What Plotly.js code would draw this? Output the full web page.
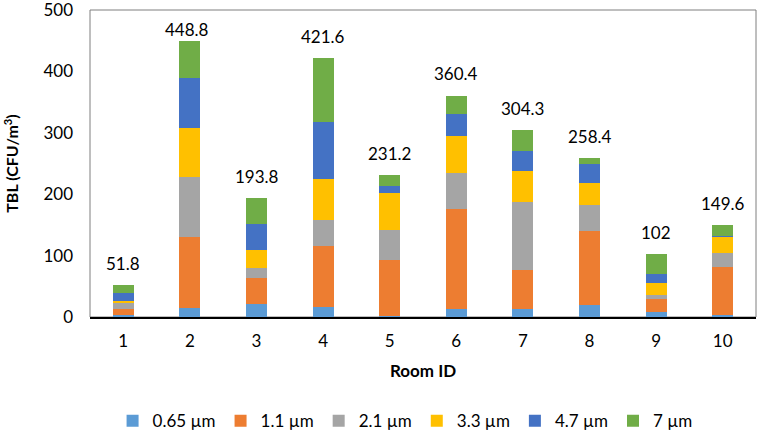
<!DOCTYPE html>
<html>
<head>
<meta charset="utf-8">
<script src="https://cdn.plot.ly/plotly-3.0.1.min.js"></script>
<style>html,body{margin:0;padding:0;background:#fff;}#chart{width:760px;height:432px;}</style>
</head>
<body>
<div id="chart"></div>
<script>
var rooms = ["1","2","3","4","5","6","7","8","9","10"];
var s065 = [4.0, 14.5, 21.5, 16.1, 2.0, 12.9, 12.9, 19.3, 7.5, 2.7];
var s11  = [9.8, 115.3, 42.3, 100.3, 90.3, 162.5, 64.4, 121.3, 22.0, 79.4];
var s21  = [9.0, 98.7, 16.7, 40.8, 49.3, 59.6, 110.5, 42.3, 7.0, 22.0];
var s33  = [4.0, 80.0, 28.9, 68.1, 59.6, 60.0, 49.9, 35.4, 18.8, 25.7];
var s47  = [11.8, 80.5, 42.4, 91.7, 12.3, 36.0, 32.1, 30.6, 15.0, 1.6];
var s7   = [13.2, 59.8, 42.0, 104.6, 17.7, 29.4, 34.5, 9.5, 31.7, 18.2];
var totals = [51.8, 448.8, 193.8, 421.6, 231.2, 360.4, 304.3, 258.4, 102, 149.6];
var yTicks = [0, 100, 200, 300, 400, 500];
var seriesNames = ["0.65 µm", "1.1 µm", "2.1 µm", "3.3 µm", "4.7 µm", "7 µm"];
var seriesColors = ["#5B9BD5", "#ED7D31", "#A5A5A5", "#FFC000", "#4472C4", "#70AD47"];
var seriesData = [s065, s11, s21, s33, s47, s7];

var FONT = "Lato, 'Open Sans', sans-serif";
var yMax = yTicks[yTicks.length - 1];

var traces = seriesData.map(function (vals, i) {
  return {
    type: "bar",
    name: seriesNames[i],
    x: rooms,
    y: vals,
    marker: { color: seriesColors[i], line: { width: 0 } },
    hoverinfo: "x+y+name"
  };
});

var annotations = totals.map(function (t, i) {
  if (i === 1) {
    return {
      x: i, y: t, xref: "x", yref: "y",
      text: String(t), showarrow: true, arrowhead: 0, arrowwidth: 1,
      arrowcolor: "#A6A6A6", ax: -3, ay: -12,
      font: { family: FONT, size: 17, color: "#000" }
    };
  }
  return {
    x: i, y: t, xref: "x", yref: "y",
    text: String(t), showarrow: false, yanchor: "middle", yshift: 22,
    font: { family: FONT, size: 17, color: "#000" }
  };
});

var layout = {
  width: 760, height: 432,
  margin: { l: 90, r: 4, t: 10, b: 115, autoexpand: false },
  paper_bgcolor: "#fff", plot_bgcolor: "#fff",
  barmode: "stack",
  bargap: 0.685,
  font: { family: FONT, size: 17, color: "#000" },
  xaxis: {
    type: "category",
    range: [-0.5, 9.5],
    showgrid: false,
    showline: true, linecolor: "#000", linewidth: 1.5,
    mirror: false,
    ticks: "", ticklabelstandoff: 8,
    tickfont: { family: FONT, size: 17, color: "#000" },
    title: { text: "<b>Room ID</b>", font: { family: FONT, size: 17, color: "#000" }, standoff: 15 },
    fixedrange: true
  },
  yaxis: {
    range: [0, yMax],
    tickvals: yTicks,
    showgrid: false, zeroline: false,
    showline: false,
    ticks: "", ticklabelstandoff: 16,
    ticklabeloverflow: "allow",
    tickfont: { family: FONT, size: 17, color: "#000" },
    title: { text: "<b>TBL (CFU/m<sup>3</sup>)</b>", font: { family: FONT, size: 16, color: "#000" }, standoff: 20 },
    fixedrange: true
  },
  shapes: [{
    type: "rect", xref: "paper", yref: "paper", x0: 0, x1: 1, y0: 0, y1: 1,
    line: { color: "#7F7F7F", width: 1 }, layer: "below"
  }],
  legend: {
    orientation: "h",
    xref: "container", yref: "container",
    x: 0.533, xanchor: "center",
    y: 0.025, yanchor: "middle",
    traceorder: "normal",
    font: { family: FONT, size: 17, color: "#000" },
    itemwidth: 30
  },
  annotations: annotations,
  showlegend: true
};

Plotly.newPlot("chart", traces, layout, { displayModeBar: false, staticPlot: true });
</script>
</body>
</html>
